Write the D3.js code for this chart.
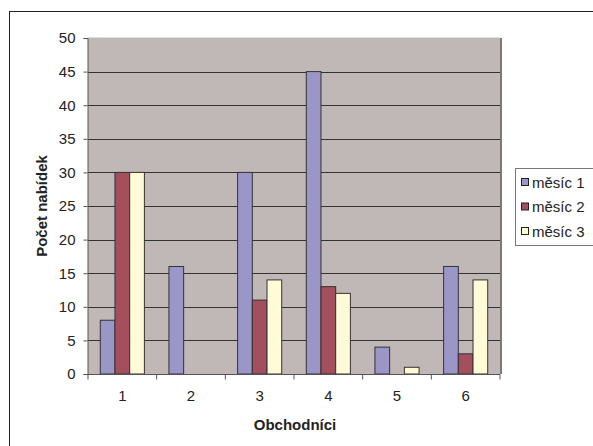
<!DOCTYPE html>
<html>
<head>
<meta charset="utf-8">
<script src="https://cdn.jsdelivr.net/npm/d3@7"></script>
<style>
html,body{margin:0;padding:0;background:#fff;overflow:hidden;}
svg{display:block;font-family:"Liberation Sans",Arial,sans-serif;}
</style>
</head>
<body>
<svg class="svg" width="593" height="446"></svg>
<script>
// data
var categories=["1","2","3","4","5","6"];
var seriesNames=["měsíc 1","měsíc 2","měsíc 3"];
var mesic1=[8,16,30,45,4,16];
var mesic2=[30,0,11,13,0,3];
var mesic3=[30,0,14,12,1,14];
var yTicks=[0,5,10,15,20,25,30,35,40,45,50];
var colormap=["#9b96c8","#a34f5e","#fffbd6"];

var series=[mesic1,mesic2,mesic3];
var svg=d3.select(".svg");
var fs=15;

// ramecek grafu
svg.append("rect").attr("x",9.5).attr("y",11.5).attr("width",600).attr("height",460)
    .attr("fill","#fff").attr("stroke","#222").attr("stroke-width",1);

var pLeft=88,pTop=38,pRight=500,pBottom=374;
var x=d3.scaleBand().domain(categories).range([pLeft,pRight]);
var y=d3.scaleLinear().domain([0,50]).range([pBottom,pTop]);

// plocha
svg.append("rect").attr("x",pLeft).attr("y",pTop).attr("width",pRight-pLeft).attr("height",pBottom-pTop)
    .attr("fill","#c0b8b6");
svg.append("line").attr("x1",pRight+1).attr("x2",pRight+1).attr("y1",pTop).attr("y2",pBottom)
    .attr("stroke","#7f7777").attr("stroke-width",2);
svg.append("line").attr("x1",pLeft).attr("x2",pRight).attr("y1",pTop-0.5).attr("y2",pTop-0.5)
    .attr("stroke","#e0dcdb").attr("stroke-width",1);

// mrizka
svg.append("g").attr("class","grid").selectAll("line").data(yTicks.filter(function(d){return d>0&&d<50;}))
    .enter().append("line")
    .attr("x1",pLeft).attr("x2",pRight)
    .attr("y1",function(d){return Math.round(y(d))+0.5;}).attr("y2",function(d){return Math.round(y(d))+0.5;})
    .attr("stroke","#333").attr("stroke-width",1);

// sloupce
var bw=x.bandwidth()/4.67;
var pad=(x.bandwidth()-3*bw)/2;
var gBars=svg.append("g").attr("class","bars");
series.forEach(function(s,si){
    gBars.selectAll(".b"+si).data(s).enter().append("rect")
        .attr("class","b"+si)
        .attr("x",function(d,i){return x(categories[i])+pad+si*bw;})
        .attr("y",function(d){return y(d);})
        .attr("width",bw)
        .attr("height",function(d){return pBottom-y(d);})
        .attr("fill",colormap[si])
        .attr("stroke","#333").attr("stroke-width",1)
        .style("display",function(d){return d>0?null:"none";});
});

// osa y
var yAxis=d3.axisLeft(y).tickValues(yTicks).tickSize(4).tickPadding(8);
var ya=svg.append("g").attr("transform","translate("+(pLeft-0.5)+",0)").call(yAxis);
ya.select(".domain").attr("stroke","#555");
ya.selectAll(".tick line").attr("stroke","#555");
ya.selectAll(".tick text").attr("font-size",fs).attr("fill","#222").attr("font-family","Liberation Sans,Arial,sans-serif");

// osa x
var xEdges=d3.scaleLinear().domain([0,6]).range([pLeft,pRight]);
var xa=svg.append("g").attr("transform","translate(0,"+(pBottom+0.5)+")");
xa.append("line").attr("x1",pLeft).attr("x2",pRight).attr("stroke","#555");
xa.selectAll(".tk").data(d3.range(0,7)).enter().append("line")
    .attr("x1",function(d){return xEdges(d);}).attr("x2",function(d){return xEdges(d);})
    .attr("y1",0).attr("y2",5).attr("stroke","#555");
xa.selectAll("text").data(categories).enter().append("text")
    .attr("x",function(d){return x(d)+x.bandwidth()/2;}).attr("y",26)
    .attr("text-anchor","middle").attr("font-size",fs).attr("fill","#222").text(function(d){return d;});

// popisky os
svg.append("text").attr("x",295).attr("y",430).attr("text-anchor","middle")
    .attr("font-size",fs).attr("font-weight","bold").attr("fill","#222").text("Obchodníci");
svg.append("text").attr("transform","translate(47,206) rotate(-90)").attr("text-anchor","middle")
    .attr("font-size",fs).attr("font-weight","bold").attr("fill","#222").text("Počet nabídek");

// legenda
var lg=svg.append("g").attr("class","legend");
lg.append("rect").attr("x",515.5).attr("y",168.5).attr("width",90).attr("height",77)
    .attr("fill","#fff").attr("stroke","#777");
seriesNames.forEach(function(n,i){
    var cy=182.5+i*24.5;
    lg.append("rect").attr("x",521.5).attr("y",cy-4).attr("width",7).attr("height",7)
        .attr("fill",colormap[i]).attr("stroke","#222");
    lg.append("text").attr("x",532).attr("y",cy+5).attr("font-size",fs).attr("fill","#222").text(n);
});
</script>
</body>
</html>
